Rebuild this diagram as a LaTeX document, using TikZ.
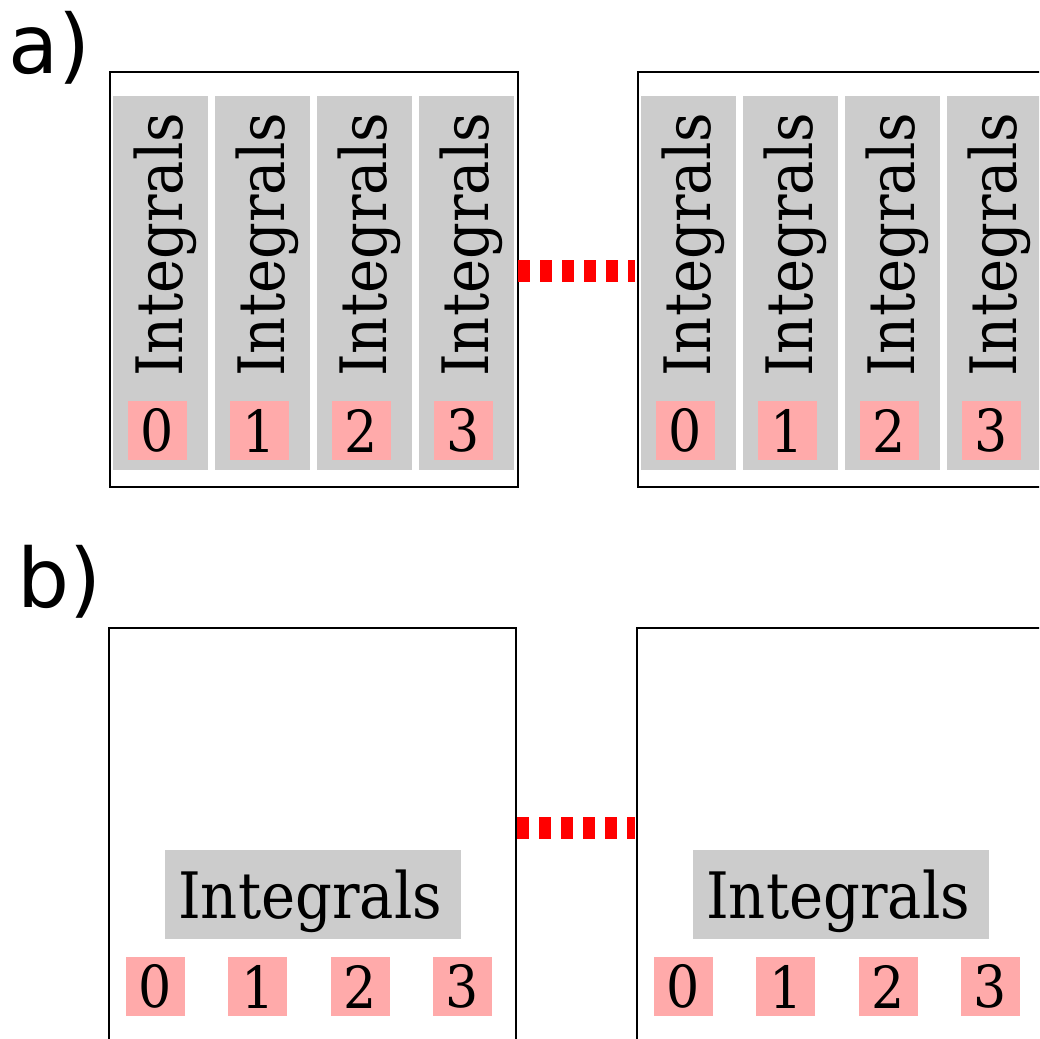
\documentclass[tikz,border=0pt]{standalone}
\usepackage{fontspec}
\setmainfont{DejaVu Serif}
\newfontfamily\intfont[FakeStretch=0.9]{DejaVu Serif}
\newfontfamily\labelfont{DejaVu Sans}
\definecolor{colgray}{HTML}{CCCCCC}
\definecolor{numred}{HTML}{FFAAAA}
\begin{document}
\begin{tikzpicture}[x=1pt,y=-1pt,
  frame/.style={draw=black,line width=2pt},
  colbox/.style={fill=colgray,draw=none},
  numbox/.style={fill=numred,draw=none,minimum width=59pt,minimum height=59pt,inner sep=0pt,font=\intfont\fontsize{58}{58}\selectfont},
  intlabel/.style={inner sep=0pt,font=\intfont\fontsize{64}{64}\selectfont},
  panellabel/.style={inner sep=0pt,anchor=base west,font=\labelfont\fontsize{82}{82}\selectfont},
  link/.style={draw=red,line width=22pt,dash pattern=on 11.5pt off 10.5pt}]
\useasboundingbox (0,0) rectangle (1039,1039);
\clip (0,0) rectangle (1039,1039);
% labels
\node[panellabel] (la) at (8,73) {a)};
\node[panellabel] (lb) at (17,607) {b)};
% ---------- panel a ----------
\foreach \off/\nm in {0/L,528/R}{
  \draw[frame] (110+\off,72) rectangle (518+\off,487);
  \foreach \i in {0,1,2,3}{
    \pgfmathsetmacro{\xl}{113+102*\i+\off}
    \fill[colbox] (\xl,96) rectangle (\xl+95,470);
    \node[intlabel,rotate=90,anchor=base west] (ai\nm\i) at (\xl+69,377) {Integrals};
    \node[numbox] (an\nm\i) at (\xl+44.5,430.5) {\i};
  }
}
\coordinate (aL) at (518,271);
\coordinate (aR) at (635,271);
\draw[link] (aL) -- (aR);
% ---------- panel b ----------
\foreach \off/\nm in {0/L,528/R}{
  \draw[frame] (109+\off,628) rectangle (516+\off,1100);
  \fill[colbox] (165+\off,850) rectangle (461+\off,938.5);
  \node[intlabel,anchor=base west] (bi\nm) at (178+\off,918) {Integrals};
  \foreach \i in {0,1,2,3}{
    \pgfmathsetmacro{\xl}{126+102.3*\i+\off}
    \node[numbox] (bn\nm\i) at (\xl+29.5,986.5) {\i};
  }
}
\coordinate (bL) at (517,828);
\coordinate (bR) at (635,828);
\draw[link] (bL) -- (bR);
\end{tikzpicture}
\end{document}
